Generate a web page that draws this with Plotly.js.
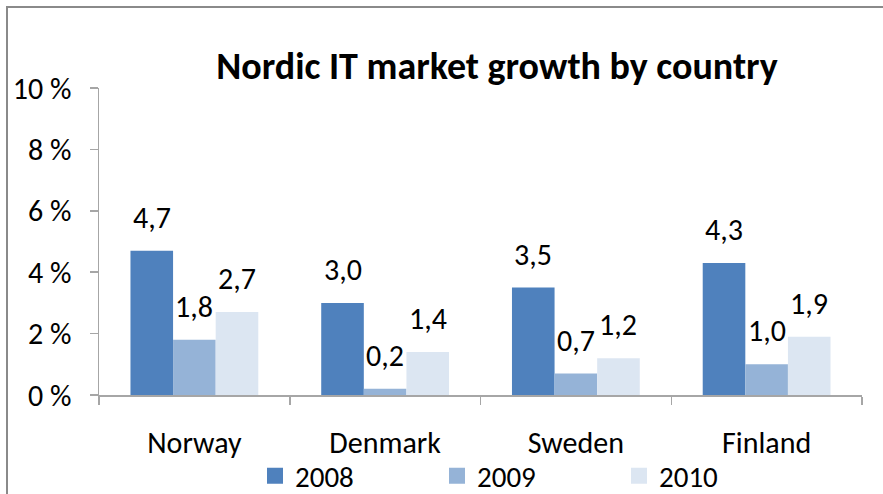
<!DOCTYPE html>
<html>
<head>
<meta charset="utf-8">
<script src="https://cdn.plot.ly/plotly-3.0.1.min.js"></script>
<style>
  html, body { margin: 0; padding: 0; background: #fff; overflow: hidden; }
  #chart { width: 883px; height: 494px; position: absolute; left: 0; top: 0; }
  #frame { position: absolute; left: 6px; top: 6px; width: 2000px; height: 2000px;
           border-left: 2px solid #8a8a8a; border-top: 2px solid #8a8a8a; pointer-events: none; }
</style>
</head>
<body>
<div id="chart"></div>
<div id="frame"></div>
<script>
const categories = ["Norway", "Denmark", "Sweden", "Finland"];
const seriesNames = ["2008", "2009", "2010"];
const values2008 = [4.7, 3.0, 3.5, 4.3];
const values2009 = [1.8, 0.2, 0.7, 1.0];
const values2010 = [2.7, 1.4, 1.2, 1.9];
const yTicks = [0, 2, 4, 6, 8, 10];

const colors = ["#4F81BD", "#95B3D7", "#DCE6F2"];
const FONT = "Carlito, Lato, sans-serif";
const bargap = 0.33;
const allValues = [values2008, values2009, values2010];

const traces = [];
allValues.forEach((vals, j) => {
  traces.push({
    type: "bar", x: categories, y: vals, name: seriesNames[j],
    marker: { color: colors[j], line: { width: 0 } },
    showlegend: false, hoverinfo: "x+y"
  });
});
// legend proxies with bigger square markers
allValues.forEach((vals, j) => {
  traces.push({
    type: "scatter", mode: "markers", x: [null], y: [null], name: seriesNames[j],
    marker: { symbol: "square", size: 18, color: colors[j] },
    showlegend: true, hoverinfo: "skip"
  });
});

const annotations = [];
const barW = (1 - bargap) / 3;
allValues.forEach((vals, j) => {
  vals.forEach((v, i) => {
    annotations.push({
      x: i + (j - 1) * barW, y: v, xref: "x", yref: "y",
      text: v.toFixed(1).replace(".", ","),
      showarrow: false, yanchor: "bottom", yshift: 13,
      font: { family: FONT, size: 30, color: "#000" }
    });
  });
});

const layout = {
  width: 883, height: 494,
  margin: { l: 99, r: 21, t: 88, b: 99 },
  paper_bgcolor: "#fff", plot_bgcolor: "#fff",
  font: { family: FONT, size: 30, color: "#000" },
  separators: ",.",
  title: {
    text: "<b>Nordic IT market growth by country</b>",
    font: { family: FONT, size: 38, color: "#000" },
    xref: "container", x: 497 / 883, xanchor: "center",
    yref: "container", y: 1 - 66 / 494, yanchor: "middle"
  },
  barmode: "group", bargap: bargap, bargroupgap: 0,
  xaxis: {
    type: "category", showgrid: false, zeroline: false,
    showline: true, linecolor: "#a6a6a6", linewidth: 1.5,
    ticks: "outside", tickson: "boundaries", ticklen: 8, tickcolor: "#a6a6a6", tickwidth: 1.5,
    ticklabelstandoff: 20,
    tickfont: { family: FONT, size: 30, color: "#000" }
  },
  yaxis: {
    range: [0, 10], tickvals: yTicks, ticktext: yTicks.map(t => t + " %"),
    showgrid: false, zeroline: false,
    showline: true, linecolor: "#a6a6a6", linewidth: 1.5,
    ticks: "outside", ticklen: 8, tickcolor: "#a6a6a6", tickwidth: 1.5,
    ticklabelstandoff: 12,
    tickfont: { family: FONT, size: 30, color: "#000" }
  },
  showlegend: true,
  legend: {
    orientation: "h", xref: "container", yref: "container",
    x: 255 / 883, xanchor: "left", y: 1 - 476 / 494, yanchor: "middle",
    entrywidth: 137, entrywidthmode: "pixels",
    font: { family: FONT, size: 29, color: "#000" },
    bgcolor: "rgba(0,0,0,0)", borderwidth: 0
  },
  annotations: annotations
};

Plotly.newPlot("chart", traces, layout, { displayModeBar: false, staticPlot: true });
</script>
</body>
</html>
